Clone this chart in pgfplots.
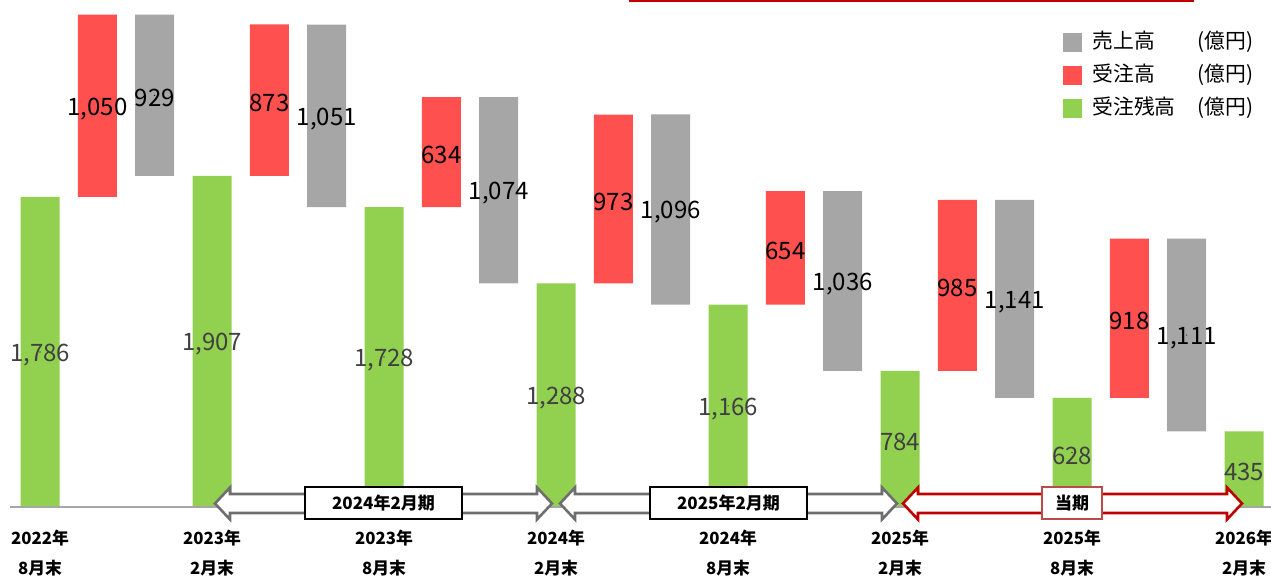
\documentclass[border=0pt]{standalone}
\usepackage{fontspec}
\setmainfont{Noto Sans CJK JP}
\usepackage{pgfplots}
\usepackage{pgfplotstable}
\pgfplotsset{compat=1.18}
\definecolor{cgreen}{HTML}{92D050}
\definecolor{cred}{HTML}{FF5050}
\definecolor{cgray}{HTML}{A6A6A6}
\definecolor{cline}{HTML}{A6A6A6}
\definecolor{carrow}{HTML}{6E6E6E}
\definecolor{cdred}{HTML}{C00000}
\definecolor{cbox}{HTML}{BC4B4B}
\definecolor{cglab}{HTML}{404040}

\pgfplotstableread{
x base green red gray
0 0 1786 0 0
1 1786 0 1050 0
2 1907 0 0 929
3 0 1907 0 0
4 1907 0 873 0
5 1728 0 0 1051
6 0 1728 0 0
7 1728 0 634 0
8 1288 0 0 1074
9 0 1288 0 0
10 1288 0 973 0
11 1166 0 0 1096
12 0 1166 0 0
13 1166 0 654 0
14 784 0 0 1036
15 0 784 0 0
16 784 0 985 0
17 628 0 0 1141
18 0 628 0 0
19 628 0 918 0
20 435 0 0 1111
21 0 435 0 0
}\bardata

\pgfplotstableread{
x y lab
0 893 1,786
3 953.5 1,907
6 864 1,728
9 644 1,288
12 583 1,166
15 392 784
18 314 628
21 217.5 435
}\glabels

\pgfplotstableread{
x y lab
1 2311 1,050
2 2371.5 929
4 2343.5 873
5 2253.5 1,051
7 2045 634
8 1825 1,074
10 1774.5 973
11 1714 1,096
13 1493 654
14 1302 1,036
16 1276.5 985
17 1198.5 1,141
19 1087 918
20 990.5 1,111
}\blabels

\pgfplotsset{
  common/.style={
    scale only axis, width=635.5pt, height=253.5pt,
    xmin=-0.698, xmax=21.47, ymin=0, ymax=2921,
    at={(0pt,0pt)}, anchor=south west, clip=false,
  },
  labplot/.style={
    only marks, mark=*, mark size=0.01pt,
    mark options={draw=none, fill=none},
    nodes near coords, point meta=explicit symbolic,
    every node near coord/.append style={anchor=center, inner sep=0pt, yshift=-1.5pt,
      font=\fontsize{12}{14}\selectfont, text=#1},
    forget plot,
  },
}

\newcommand{\dblarrow}[3]{%
  \draw[#1, fill=white, line width=1.3pt, line join=miter]
    (#2pt,1.75pt) -- ({#2pt+7.5pt},9.75pt) -- ({#2pt+7.5pt},6.5pt)
    -- ({#3pt-7.5pt},6.5pt) -- ({#3pt-7.5pt},9.75pt) -- (#3pt,1.75pt)
    -- ({#3pt-7.5pt},-6.25pt) -- ({#3pt-7.5pt},-3pt)
    -- ({#2pt+7.5pt},-3pt) -- ({#2pt+7.5pt},-6.25pt) -- cycle;}

\begin{document}
\begin{tikzpicture}
\begin{axis}[common, hide axis, ybar stacked, bar width=19.5pt]
  \addplot[draw=none, fill=none] table[x=x, y=base] {\bardata};
  \addplot[draw=none, fill=cgreen] table[x=x, y=green] {\bardata};
  \addplot[draw=none, fill=cred] table[x=x, y=red] {\bardata};
  \addplot[draw=none, fill=cgray] table[x=x, y=gray] {\bardata};
\end{axis}
\begin{axis}[common,
  axis line style={draw=none}, major tick length=0pt,
  ytick=\empty, xtick={0,3,...,21},
  xticklabels={{2022年\\8月末},{2023年\\2月末},{2023年\\8月末},{2024年\\2月末},
               {2024年\\8月末},{2025年\\2月末},{2025年\\8月末},{2026年\\2月末}},
  xticklabel style={align=center, anchor=north, yshift=-8pt,
    font=\bfseries\fontsize{8.4}{15}\selectfont},
  legend image code/.code={\fill[#1] (0pt,-4.75pt) rectangle (9.5pt,4.75pt);},
  legend cell align=left,
  legend style={draw=none, fill=none, inner sep=0pt,
    at={(rel axis cs:0.8364,0.935)}, anchor=north west,
    font=\fontsize{10.4}{12}\selectfont, row sep=7pt,
    nodes={inner sep=0pt, text height=7.5pt, text depth=2pt},
    /tikz/every odd column/.style={column sep=5pt}},
]
  \addlegendimage{fill=cgray, draw=none}
  \addlegendentry{\makebox[52.5pt][l]{売上高}(億円)}
  \addlegendimage{fill=cred, draw=none}
  \addlegendentry{\makebox[52.5pt][l]{受注高}(億円)}
  \addlegendimage{fill=cgreen, draw=none}
  \addlegendentry{\makebox[52.5pt][l]{受注残高}(億円)}
  \addplot[labplot=cglab] table[x=x, y=y, meta=lab] {\glabels};
  \addplot[labplot=black] table[x=x, y=y, meta=lab] {\blabels};
  \draw[cline, line width=1pt] (axis cs:-0.523,0) -- (axis cs:21.47,0);
\end{axis}
\dblarrow{carrow}{107.5}{276}
\dblarrow{carrow}{280}{448.5}
\dblarrow{cdred}{451.5}{621}
\node[draw=black, line width=0.6pt, fill=white, minimum width=78.5pt, minimum height=16pt, inner sep=0pt,
  font=\bfseries\fontsize{8.5}{10}\selectfont] at (191.75pt,2pt) {2024年2月期};
\node[draw=black, line width=0.6pt, fill=white, minimum width=78.5pt, minimum height=16pt, inner sep=0pt,
  font=\bfseries\fontsize{8.5}{10}\selectfont] at (364.25pt,2pt) {2025年2月期};
\node[draw=cbox, line width=1pt, fill=white, minimum width=30pt, minimum height=16pt, inner sep=0pt,
  font=\bfseries\fontsize{8.5}{10}\selectfont] at (536pt,2pt) {当期};
\draw[cdred, line width=1pt] (314.5pt,253pt) -- (597pt,253pt);
\pgfresetboundingbox
\path[use as bounding box] (0pt,-35pt) rectangle (635.5pt,253.5pt);
\end{tikzpicture}
\end{document}
